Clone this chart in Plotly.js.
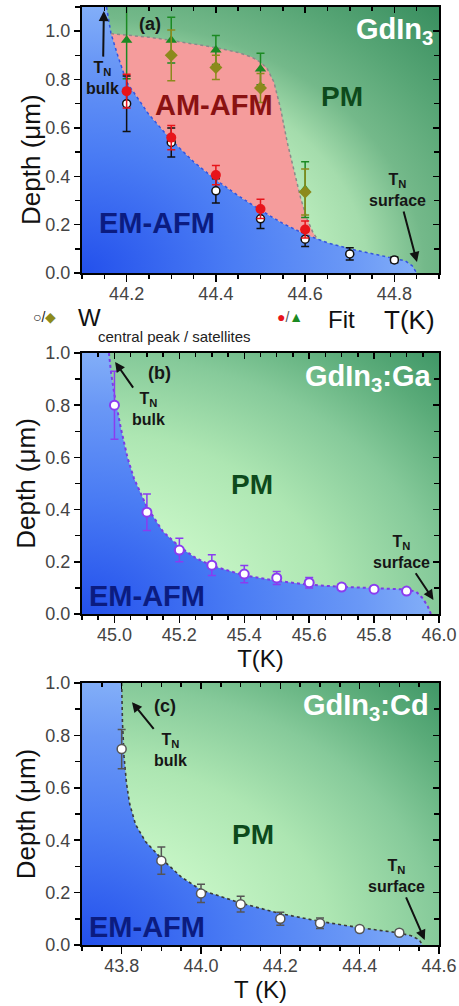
<!DOCTYPE html>
<html><head><meta charset="utf-8">
<script src="https://cdn.plot.ly/plotly-3.0.1.min.js"></script>
<style>body{margin:0;background:#fff}</style>
</head><body><div id="chart" style="width:459px;height:1006px"></div>
<script>
// ---------- Panel (a) GdIn3 ----------
const tempA = [44.2, 44.3, 44.4, 44.5, 44.6, 44.7, 44.8];
const wCentralA = [0.70, 0.54, 0.34, 0.224, 0.14, 0.079, 0.054];
const wCentralErrA = [0.115, 0.06, 0.05, 0.04, 0.03, 0.025, 0.012];
const tempSatA = [44.3, 44.4, 44.5, 44.6];
const wSatA = [0.90, 0.85, 0.765, 0.335];
const wSatErrA = [0.105, 0.05, 0.06, 0.095];
const tempFitA = [44.2, 44.3, 44.4, 44.5, 44.6];
const fitCentralA = [0.752, 0.56, 0.405, 0.265, 0.18];
const fitCentralErrA = [0.07, 0.05, 0.04, 0.04, 0.035];
const fitSatA = [0.963, 0.963, 0.922, 0.844, 0.345];
const fitSatErrA = [0.16, 0.095, 0.06, 0.065, 0.115];
// EM-AFM boundary (T_N bulk -> T_N surface)
const bndTA = [44.155, 44.165, 44.18, 44.2, 44.25, 44.3, 44.35, 44.4, 44.45, 44.5, 44.55, 44.6, 44.65, 44.7, 44.75, 44.8, 44.825, 44.84, 44.85];
const bndDA = [1.1, 0.99, 0.9, 0.79, 0.655, 0.55, 0.46, 0.385, 0.32, 0.26, 0.205, 0.16, 0.125, 0.1, 0.08, 0.062, 0.05, 0.03, 0.0];
// AM-AFM / PM boundary
const amTA = [44.165, 44.2, 44.25, 44.3, 44.35, 44.4, 44.45, 44.48, 44.5, 44.515, 44.53, 44.545, 44.56, 44.575, 44.59, 44.605, 44.617, 44.627];
const amDA = [0.99, 0.985, 0.975, 0.962, 0.948, 0.932, 0.912, 0.893, 0.872, 0.845, 0.79, 0.68, 0.54, 0.42, 0.31, 0.22, 0.17, 0.141];

// ---------- Panel (b) GdIn3:Ga ----------
const tempB = [45.0, 45.1, 45.2, 45.3, 45.4, 45.5, 45.6, 45.7, 45.8, 45.9];
const depthB = [0.80, 0.39, 0.245, 0.187, 0.153, 0.138, 0.12, 0.103, 0.095, 0.088];
const errB = [0.13, 0.07, 0.045, 0.04, 0.033, 0.025, 0.02, 0.012, 0.008, 0.008];
const bndTB = [44.983, 44.99, 45.0, 45.02, 45.04, 45.06, 45.1, 45.15, 45.2, 45.25, 45.3, 45.4, 45.5, 45.6, 45.7, 45.8, 45.9, 45.93, 45.95, 45.965, 45.975];
const bndDB = [1.0, 0.92, 0.84, 0.71, 0.6, 0.52, 0.41, 0.315, 0.258, 0.215, 0.185, 0.148, 0.127, 0.112, 0.104, 0.098, 0.094, 0.085, 0.06, 0.03, 0.0];

// ---------- Panel (c) GdIn3:Cd ----------
const tempC = [43.8, 43.9, 44.0, 44.1, 44.2, 44.3, 44.4, 44.5];
const depthC = [0.748, 0.322, 0.197, 0.156, 0.10, 0.083, 0.061, 0.047];
const errC = [0.075, 0.052, 0.035, 0.03, 0.025, 0.02, 0.01, 0.01];
const bndTC = [43.8, 43.802, 43.806, 43.812, 43.82, 43.835, 43.86, 43.9, 43.95, 44.0, 44.1, 44.2, 44.3, 44.4, 44.5, 44.53, 44.55, 44.558];
const bndDC = [1.0, 0.85, 0.72, 0.62, 0.54, 0.46, 0.395, 0.33, 0.26, 0.21, 0.16, 0.12, 0.09, 0.066, 0.046, 0.035, 0.02, 0.0];

const xTickLabelsA = ['44.2', '44.4', '44.6', '44.8'];
const xTickLabelsB = ['45.0', '45.2', '45.4', '45.6', '45.8', '46.0'];
const xTickLabelsC = ['43.8', '44.0', '44.2', '44.4', '44.6'];
const yTickLabels = ['0.0', '0.2', '0.4', '0.6', '0.8', '1.0'];

// ---------- ranges / styles ----------
const FONT = 'Liberation Sans, Arial, sans-serif';
const rangesX = {a: [44.1, 44.9], b: [44.9, 46.0], c: [43.7, 44.6]};
const rangesY = {a: [0, 1.1], b: [0, 1.0], c: [0, 1.0]};
const greenScale = [[0, '#d8fcd8'], [0.2, '#c4f4c4'], [0.35, '#ade6b2'], [0.5, '#86ca9a'], [0.62, '#5aab79'], [0.72, '#3c9464'], [1, '#2a7a50']];
const greenScaleA = [[0, '#d8fcd8'], [0.3, '#bff0c0'], [0.4, '#a4dcac'], [0.48, '#74b98a'], [0.58, '#58a676'], [0.7, '#3a8f60'], [1, '#2a7a50']];
const blueScale = [[0, '#2350ec'], [0.45, '#4a7cf4'], [0.8, '#6a98f6'], [1, '#82aef8']];

const traces = [];
function backgrounds(xa, ya, xr, yr, bx, by, gscale) {
  const x0 = xr[0], W = xr[1] - xr[0], H = yr[1];
  // PM background: radial gradient centred on lower-left plot corner
  traces.push({x: [x0 - 2 * W, x0 + 2 * W, x0 + 2 * W, x0 - 2 * W], y: [-2 * H, -2 * H, 2 * H, 2 * H],
    xaxis: xa, yaxis: ya, mode: 'lines', fill: 'toself', line: {width: 0},
    fillgradient: {type: 'radial', colorscale: gscale}, hoverinfo: 'skip', showlegend: false});
  // EM-AFM region below boundary
  const xe = bx[bx.length - 1], A = xe - x0, top = by[0];
  traces.push({x: bx.concat([xe, x0 - A, x0 - A]), y: by.concat([-top, -top, top]),
    xaxis: xa, yaxis: ya, mode: 'lines', fill: 'toself', line: {width: 0},
    fillgradient: {type: 'radial', colorscale: blueScale}, hoverinfo: 'skip', showlegend: false});
}
backgrounds('x', 'y', rangesX.a, rangesY.a, bndTA, bndDA, greenScaleA);
// AM-AFM region
(function () {
  const t0 = amTA[0], t1 = amTA[amTA.length - 1];
  const rx = [], ry = [];
  for (let i = bndTA.length - 1; i >= 0; i--) {
    if (bndTA[i] > t0 && bndTA[i] < t1) { rx.push(bndTA[i]); ry.push(bndDA[i]); }
  }
  traces.push({x: amTA.concat(rx), y: amDA.concat(ry), xaxis: 'x', yaxis: 'y', mode: 'lines', fill: 'toself',
    fillcolor: '#f59c9c', line: {width: 0}, hoverinfo: 'skip', showlegend: false});
})();
traces.push({x: bndTA, y: bndDA, xaxis: 'x', yaxis: 'y', mode: 'lines', line: {color: '#3555e0', width: 1.5, dash: 'dot'}, showlegend: false});
traces.push({x: amTA, y: amDA, xaxis: 'x', yaxis: 'y', mode: 'lines', line: {color: '#8a8a8a', width: 1.5, dash: 'dot'}, showlegend: false});

function errPts(xa, ya, x, y, e, marker, ecol) {
  traces.push({x: x, y: y, xaxis: xa, yaxis: ya, mode: 'markers', marker: marker,
    error_y: {type: 'data', array: e, visible: true, color: ecol, thickness: 1.5, width: 4}, showlegend: false});
}
errPts('x', 'y', tempFitA, fitSatA, fitSatErrA, {symbol: 'triangle-up', size: 10, color: '#1b8a22'}, '#1b8a22');
errPts('x', 'y', tempSatA, wSatA, wSatErrA, {symbol: 'diamond', size: 10, color: '#8c8a1c'}, '#8c8a1c');
errPts('x', 'y', tempA, wCentralA, wCentralErrA, {symbol: 'circle', size: 8, color: '#ffffff', line: {color: '#111', width: 1.5}}, '#111');
errPts('x', 'y', tempFitA, fitCentralA, fitCentralErrA, {symbol: 'circle', size: 10, color: '#e8141a'}, '#e8141a');

backgrounds('x2', 'y2', rangesX.b, rangesY.b, bndTB, bndDB, greenScale);
traces.push({x: bndTB, y: bndDB, xaxis: 'x2', yaxis: 'y2', mode: 'lines', line: {color: '#7a3ce6', width: 2, dash: 'dot'}, showlegend: false});
errPts('x2', 'y2', tempB, depthB, errB, {symbol: 'circle', size: 9, color: '#ffffff', line: {color: '#8a3cf0', width: 2}}, '#8a3cf0');

backgrounds('x3', 'y3', rangesX.c, rangesY.c, bndTC, bndDC, greenScale);
traces.push({x: bndTC, y: bndDC, xaxis: 'x3', yaxis: 'y3', mode: 'lines', line: {color: '#3a3a3a', width: 1.6, dash: 'dot'}, showlegend: false});
errPts('x3', 'y3', tempC, depthC, errC, {symbol: 'circle', size: 9, color: '#ffffff', line: {color: '#555', width: 1.5}}, '#555');

// dummy traces for mirrored inside-tick axes
[['x4', 'y'], ['x', 'y4'], ['x5', 'y2'], ['x2', 'y5'], ['x6', 'y3'], ['x3', 'y6']].forEach(p => {
  traces.push({x: [null], y: [null], xaxis: p[0], yaxis: p[1], mode: 'markers', showlegend: false, hoverinfo: 'skip'});
});

function xAxis(r, labels, anchor, title) {
  const ax = {anchor: anchor, domain: [0, 1], range: r, tickvals: labels.map(Number), ticktext: labels,
    ticks: 'outside', ticklen: 7, tickwidth: 1.5, tickcolor: '#000', ticklabelstandoff: -4,
    minor: {ticks: 'outside', ticklen: 4, tickwidth: 1.5, dtick: 0.05, tick0: 0, tickcolor: '#000'},
    showline: true, linecolor: '#000', linewidth: 2, mirror: true, showgrid: false, zeroline: false,
    tickfont: {family: FONT, size: 18, color: '#444'}, fixedrange: true};
  if (title) ax.title = {text: title, font: {family: FONT, size: 24, color: '#111'}, standoff: 2};
  return ax;
}
function yAxis(r, dom, anchor, withTitle) {
  const ax = {anchor: anchor, domain: dom, range: r, tickvals: yTickLabels.map(Number), ticktext: yTickLabels,
    ticks: 'outside', ticklen: 6, tickwidth: 1.5, tickcolor: '#000',
    minor: {ticks: 'outside', ticklen: 5, tickwidth: 1.5, dtick: 0.1, tick0: 0, tickcolor: '#000'},
    showline: true, linecolor: '#000', linewidth: 2, mirror: true, showgrid: false, zeroline: false,
    tickfont: {family: FONT, size: 18, color: '#444'}, fixedrange: true};
  if (withTitle) ax.title = {text: 'Depth (μm)', font: {family: FONT, size: 26, color: '#111'}, standoff: 2};
  return ax;
}
function xTop(r, labels, over, anchor) {
  return {overlaying: over, anchor: anchor, side: 'top', range: r, tickvals: labels.map(Number), ticks: 'inside', ticklen: 6, tickwidth: 1.5, tickcolor: '#000',
    minor: {ticks: 'inside', ticklen: 4, tickwidth: 1.5, dtick: 0.05, tick0: 0, tickcolor: '#000'},
    showticklabels: false, showline: false, showgrid: false, zeroline: false, fixedrange: true};
}
function yRight(r, over, anchor) {
  return {overlaying: over, anchor: anchor, side: 'right', range: r, tickvals: yTickLabels.map(Number), ticks: 'inside', ticklen: 6, tickwidth: 1.5, tickcolor: '#000',
    minor: {ticks: 'inside', ticklen: 5, tickwidth: 1.5, dtick: 0.1, tick0: 0, tickcolor: '#000'},
    showticklabels: false, showline: false, showgrid: false, zeroline: false, fixedrange: true};
}

const domA = [0.7164, 1.0], domB = [0.3529, 0.6311], domC = [0, 0.2793];

function txt(xr, yr, x, y, text, size, color, extra) {
  return Object.assign({xref: xr, yref: yr, x: x, y: y, text: text, showarrow: false,
    font: {family: FONT, size: size, color: color}, xanchor: 'center', yanchor: 'middle'}, extra || {});
}
// label with arrow: (x, y) is the arrow tip, (ax, ay) the pixel offset of the label
function tnLabel(xr, yr, x, y, ax, ay, word) {
  return {xref: xr, yref: yr, x: x, y: y, ax: ax, ay: ay, text: '<b>T<sub>N</sub><br>' + word + '</b>',
    font: {family: FONT, size: 16, color: '#161616'}, showarrow: true, arrowhead: 2,
    arrowsize: 1, arrowwidth: 2, arrowcolor: '#111', standoff: 0, startstandoff: 1};
}
const dark = '#161616';
const annotations = [
  // panel a
  txt('paper', 'paper', -0.143, 0.838, 'Depth (μm)', 26, '#111', {textangle: -90}),
  txt('x', 'y', 44.253, 1.03, '<b>(a)</b>', 18, dark),
  txt('x', 'y', 44.80, 1.0, '<b>GdIn<sub>3</sub></b>', 29, '#ffffff'),
  tnLabel('x', 'y', 44.149, 1.083, -1, 67, 'bulk'),
  txt('x', 'y', 44.395, 0.695, '<b>AM-AFM</b>', 29, '#8a1212'),
  txt('x', 'y', 44.682, 0.73, '<b>PM</b>', 28, '#0d4a1c'),
  txt('x', 'y', 44.269, 0.207, '<b>EM-AFM</b>', 29, '#0b1c80'),
  tnLabel('x', 'y', 44.8506, 0.0456, -19, -72, 'surface'),
  // legend row under panel a
  txt('paper', 'paper', -0.104, 0.669, '○/<span style="color:#8c8a1c">◆</span>', 14, '#222'),
  txt('paper', 'paper', 0.0224, 0.669, 'W', 24, '#111'),
  txt('paper', 'paper', 0.2605, 0.649, 'central peak / satellites', 15, '#222'),
  txt('paper', 'paper', 0.5826, 0.670, '<span style="color:#e8141a">●</span>/<span style="color:#1b8a22">▲</span>', 14, '#555'),
  txt('paper', 'paper', 0.7255, 0.667, 'Fit', 24, '#111'),
  txt('paper', 'paper', 0.916, 0.666, 'T(K)', 26, '#111'),
  // panel b
  txt('x2', 'y2', 45.138, 0.923, '<b>(b)</b>', 18, dark),
  txt('x2', 'y2', 45.783, 0.904, '<b>GdIn<sub>3</sub>:Ga</b>', 29, '#ffffff'),
  tnLabel('x2', 'y2', 45.002, 0.966, 33, 47, 'bulk'),
  txt('x2', 'y2', 45.425, 0.498, '<b>PM</b>', 28, '#0d4a1c'),
  txt('x2', 'y2', 45.10, 0.069, '<b>EM-AFM</b>', 29, '#0b1c80'),
  tnLabel('x2', 'y2', 45.983, 0.054, -32, -48, 'surface'),
  // panel c
  txt('x3', 'y3', 43.910, 0.912, '<b>(c)</b>', 18, dark),
  txt('x3', 'y3', 44.417, 0.908, '<b>GdIn<sub>3</sub>:Cd</b>', 29, '#ffffff'),
  tnLabel('x3', 'y3', 43.826, 0.927, 39, 48, 'bulk'),
  txt('x3', 'y3', 44.132, 0.42, '<b>PM</b>', 28, '#0d4a1c'),
  txt('x3', 'y3', 43.864, 0.069, '<b>EM-AFM</b>', 29, '#0b1c80'),
  tnLabel('x3', 'y3', 44.564, 0.019, -28, -64, 'surface')
];

const layout = {
  width: 459, height: 1006, margin: {l: 82, r: 20, t: 7, b: 61},
  paper_bgcolor: '#ffffff', plot_bgcolor: '#ffffff', showlegend: false,
  font: {family: FONT},
  xaxis: xAxis(rangesX.a, xTickLabelsA, 'y', null),
  yaxis: yAxis(rangesY.a, domA, 'x', false),
  xaxis2: xAxis(rangesX.b, xTickLabelsB, 'y2', 'T(K)'),
  yaxis2: yAxis(rangesY.b, domB, 'x2', true),
  xaxis3: xAxis(rangesX.c, xTickLabelsC, 'y3', 'T (K)'),
  yaxis3: yAxis(rangesY.c, domC, 'x3', true),
  xaxis4: xTop(rangesX.a, xTickLabelsA, 'x', 'y'),
  yaxis4: yRight(rangesY.a, 'y', 'x'),
  xaxis5: xTop(rangesX.b, xTickLabelsB, 'x2', 'y2'),
  yaxis5: yRight(rangesY.b, 'y2', 'x2'),
  xaxis6: xTop(rangesX.c, xTickLabelsC, 'x3', 'y3'),
  yaxis6: yRight(rangesY.c, 'y3', 'x3'),
  annotations: annotations
};
Plotly.newPlot('chart', traces, layout, {displayModeBar: false, staticPlot: true});
</script></body></html>
